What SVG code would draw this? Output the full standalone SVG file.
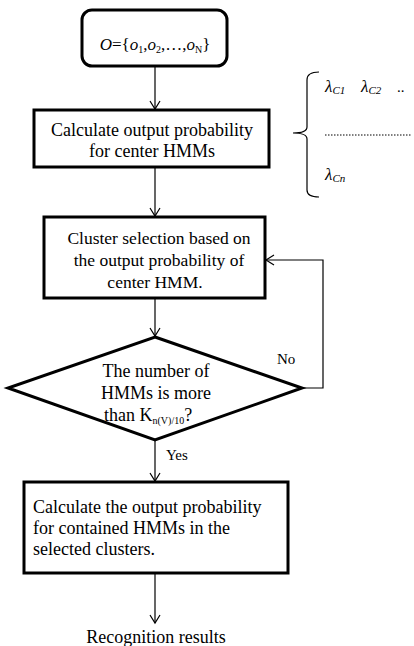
<svg xmlns="http://www.w3.org/2000/svg" width="414" height="646" viewBox="0 0 414 646">
<defs>
<marker id="arr" markerWidth="12" markerHeight="12" refX="10" refY="6" orient="auto" markerUnits="userSpaceOnUse">
<path d="M2,1 L10,6 L2,11" fill="none" stroke="#000" stroke-width="1.2"/>
</marker>
</defs>
<style>
text{font-family:'Liberation Serif','Times New Roman',serif;font-size:17.5px;fill:#000}
.box{fill:#fff;stroke:#000;stroke-width:3}
.ln{fill:none;stroke:#000;stroke-width:1.2}
.it{font-style:italic}
.c{text-anchor:middle}
.big{font-size:18px}
.lam{font-size:17px;font-style:italic}
.sub{font-size:10px}
.lsub{font-size:11px}
.lbl{font-size:15px}
</style>
<rect width="414" height="646" fill="#fff"/>
<g font-family="Liberation Serif, serif">
<g id="connectors">
<line class="ln" x1="155" y1="66" x2="155" y2="109" marker-end="url(#arr)"/>
<line class="ln" x1="155" y1="167" x2="155" y2="216" marker-end="url(#arr)"/>
<line class="ln" x1="155" y1="298" x2="155" y2="336" marker-end="url(#arr)"/>
<polyline class="ln" points="302,388 323,388 323,260 266,260" marker-end="url(#arr)"/>
<line class="ln" x1="155" y1="440" x2="155" y2="481" marker-end="url(#arr)"/>
<line class="ln" x1="155" y1="573" x2="155" y2="623" marker-end="url(#arr)"/>
<text class="lbl" x="277" y="364">No</text>
<text class="lbl" x="166" y="460">Yes</text>
</g>
<g id="start">
<rect class="box" x="82" y="10" width="145" height="56" rx="10"/>
<text class="c" x="155" y="50" style="font-size:17px"><tspan class="it">O</tspan>={<tspan class="it">o</tspan><tspan class="sub" dy="3">1</tspan><tspan dy="-3">,</tspan><tspan class="it">o</tspan><tspan class="sub" dy="3">2</tspan><tspan dy="-3">,…,</tspan><tspan class="it">o</tspan><tspan class="sub" dy="3">N</tspan><tspan dy="-3">}</tspan></text>
</g>
<g id="calc-center">
<rect class="box" x="34" y="110" width="235" height="57"/>
<text class="c big" x="152" y="136">Calculate output probability</text>
<text class="c big" x="152" y="157">for  center HMMs</text>
</g>
<g id="centers">
<path class="ln" d="M319,72 Q307,72 307,80 L307,127 Q307,133 293,133 Q307,133 307,139 L307,190 Q307,197 319,197"/>
<text class="lam" x="325" y="92">λ<tspan class="lsub" dy="2">C1</tspan></text>
<text class="lam" x="361" y="92">λ<tspan class="lsub" dy="2">C2</tspan></text>
<text class="lbl" x="397" y="92">..</text>
<line x1="325" y1="135" x2="412" y2="135" stroke="#000" stroke-width="1" stroke-dasharray="1.5,1.5"/>
<text class="lam" x="325" y="180">λ<tspan class="lsub" dy="2">Cn</tspan></text>
</g>
<g id="cluster-select">
<rect class="box" x="44" y="217" width="221" height="81"/>
<text class="c" x="159" y="244">Cluster selection based on</text>
<text class="c" x="159" y="266">the output probability of</text>
<text class="c" x="155" y="288">center HMM.</text>
</g>
<g id="decision">
<polygon class="box" points="155,337 302,388 155,440 8,388"/>
<text class="c big" x="156" y="377">The number of</text>
<text class="c big" x="156" y="399">HMMs is more</text>
<text class="big" x="104" y="421">than K<tspan class="sub" dy="3">n(V)/10</tspan><tspan dy="-3">?</tspan></text>
</g>
<g id="calc-contained">
<rect class="box" x="24" y="482" width="264" height="91" stroke-width="2.5"/>
<text class="big" x="33" y="513">Calculate the output probability</text>
<text class="big" x="33" y="534">for contained HMMs in the</text>
<text class="big" x="33" y="555">selected clusters.</text>
</g>
<g id="result">
<text class="c big" x="156" y="643">Recognition results</text>
</g>
</g>
</svg>
